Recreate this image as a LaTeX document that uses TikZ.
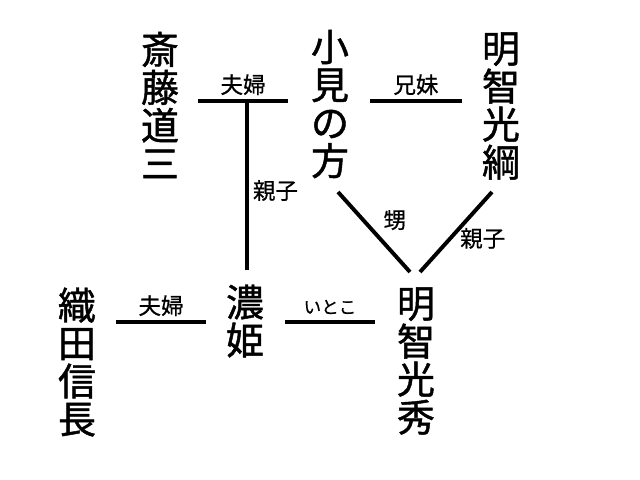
\documentclass[tikz,border=0pt]{standalone}
\usepackage{fontspec}
\newfontfamily\jpfont[FakeBold=1.2]{Noto Sans CJK JP}
\newfontfamily\jplabelfont[FakeBold=0.6]{Noto Sans CJK JP}
\usetikzlibrary{positioning}
\tikzset{
  person/.style={font=\jpfont\fontsize{27}{27}\selectfont, align=center, inner sep=0mm
  },
  rel/.style={line width=2.8pt
  },
  rellabel/.style={font=\jplabelfont\fontsize{16}{16}\selectfont, inner sep=1mm
  },
  kanalabel/.style={font=\jplabelfont\fontsize{12.5}{12.5}\selectfont, inner sep=1.5mm
  }
}

\begin{document}
\begin{tikzpicture}[x=0.025cm, y=-0.025cm]
 \useasboundingbox (0,0) rectangle (640,480);
 \node[person] (dosan) at (160,105) {斎\\藤\\道\\三};
 \node[person] (omi) at (330,104) {小\\見\\の\\方};
 \node[person] (tsuna) at (501,106) {明\\智\\光\\綱};
 \node[person] (nobu) at (77,362) {織\\田\\信\\長};
 \node[person] (nohime) at (245,321) {濃\\姫};
 \node[person] (hide) at (416,361) {明\\智\\光\\秀};

 \coordinate (fufu-l) at (198,101);
 \coordinate (fufu-r) at (288,101);
 \coordinate (fufu-c) at (247,101);
 \coordinate (fufu-d) at (247,270);
 \coordinate (kyo-l) at (370,101);
 \coordinate (kyo-r) at (462,101);
 \coordinate (oi-t) at (338,192);
 \coordinate (oi-b) at (410,272);
 \coordinate (oya-t) at (492,192);
 \coordinate (oya-b) at (420,272);
 \coordinate (fufu2-l) at (116,322);
 \coordinate (fufu2-r) at (206,322);
 \coordinate (itoko-l) at (285,322);
 \coordinate (itoko-r) at (375,322);

 \draw[rel] (fufu-l) -- node[rellabel, above] {夫婦} (fufu-r);
 \draw[rel] (fufu-c) -- node[rellabel, right, pos=.53] {親子} (fufu-d);
 \draw[rel] (kyo-l) -- node[rellabel, above] {兄妹} (kyo-r);
 \draw[rel] (oi-t) -- node[rellabel, above right, pos=.55] {甥} (oi-b);
 \draw[rel] (oya-t) -- node[rellabel, right, pos=.58, xshift=1mm] {親子} (oya-b);
 \draw[rel] (fufu2-l) -- node[rellabel, above] {夫婦} (fufu2-r);
 \draw[rel] (itoko-l) -- node[kanalabel, above] {いとこ} (itoko-r);
\end{tikzpicture}
\end{document}
